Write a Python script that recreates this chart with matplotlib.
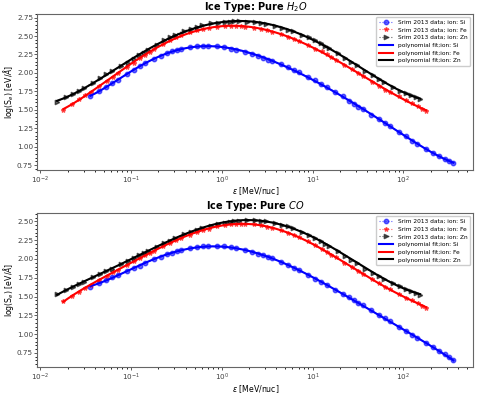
import matplotlib
matplotlib.use('Agg')
import matplotlib.pyplot as plt
from matplotlib.ticker import MultipleLocator, AutoMinorLocator, FormatStrFormatter
import numpy as np

# SRIM energy grid (total ion energy, MeV) and ion masses
energy_mev = [1, 1.25, 1.5, 1.75, 2, 2.5, 3, 3.5, 4, 5, 6, 7, 8, 9,
              10, 12.5, 15, 17.5, 20, 25, 30, 35, 40, 50, 60, 70, 80, 90,
              100, 125, 150, 175, 200, 250, 300, 350, 400, 500, 600, 700, 800, 900,
              1000, 1250, 1500, 1750, 2000, 2500, 3000, 3500, 4000, 5000, 6000, 7000, 8000, 9000,
              10000]
ions = ['Si', 'Fe', 'Zn']
ion_mass = [28.09, 55.85, 65.38]

# log10 electronic stopping [eV/A]
h2o_si = [1.69, 1.755, 1.81, 1.857, 1.90, 1.98, 2.04, 2.09, 2.13, 2.19, 2.23, 2.27, 2.29, 2.31,
          2.32, 2.35, 2.36, 2.37, 2.37, 2.36, 2.35, 2.33, 2.31, 2.28, 2.25, 2.23, 2.20, 2.18,
          2.16, 2.115, 2.08, 2.04, 2.01, 1.95, 1.90, 1.85, 1.81, 1.74, 1.68, 1.62, 1.58, 1.54,
          1.505, 1.43, 1.37, 1.32, 1.28, 1.20, 1.14, 1.08, 1.04, 0.97, 0.915, 0.87, 0.835, 0.80,
          0.775]
h2o_fe = [1.50, 1.58, 1.64, 1.70, 1.74, 1.82, 1.89, 1.95, 2.00, 2.08, 2.14, 2.20, 2.245, 2.285,
          2.32, 2.39, 2.445, 2.48, 2.51, 2.55, 2.575, 2.60, 2.61, 2.625, 2.63, 2.635, 2.635, 2.635,
          2.625, 2.61, 2.595, 2.58, 2.56, 2.53, 2.49, 2.46, 2.43, 2.375, 2.33, 2.29, 2.25, 2.215,
          2.18, 2.11, 2.05, 2.00, 1.955, 1.88, 1.82, 1.77, 1.74, 1.68, 1.63, 1.59, 1.55, 1.515,
          1.48]
h2o_zn = [1.61, 1.67, 1.717, 1.76, 1.80, 1.868, 1.925, 1.98, 2.02, 2.09, 2.14, 2.19, 2.24, 2.27,
          2.31, 2.38, 2.44, 2.485, 2.52, 2.57, 2.60, 2.625, 2.645, 2.67, 2.683, 2.692, 2.695, 2.698,
          2.70, 2.692, 2.684, 2.673, 2.66, 2.635, 2.61, 2.585, 2.565, 2.52, 2.48, 2.44, 2.40, 2.37,
          2.34, 2.265, 2.20, 2.15, 2.10, 2.025, 1.965, 1.915, 1.87, 1.81, 1.76, 1.725, 1.695, 1.67,
          1.645]
co_si = [1.63, 1.68, 1.72, 1.76, 1.79, 1.835, 1.875, 1.91, 1.945, 1.995, 2.03, 2.06, 2.08, 2.10,
         2.115, 2.14, 2.155, 2.17, 2.17, 2.175, 2.17, 2.155, 2.145, 2.12, 2.09, 2.07, 2.05, 2.03,
         2.01, 1.96, 1.92, 1.88, 1.85, 1.79, 1.74, 1.695, 1.655, 1.59, 1.535, 1.49, 1.45, 1.415,
         1.385, 1.315, 1.26, 1.21, 1.17, 1.095, 1.04, 0.99, 0.95, 0.88, 0.825, 0.775, 0.73, 0.69,
         0.65]
co_fe = [1.44, 1.51, 1.56, 1.615, 1.655, 1.725, 1.78, 1.83, 1.86, 1.92, 1.97, 2.01, 2.05, 2.085,
         2.11, 2.17, 2.21, 2.25, 2.275, 2.32, 2.36, 2.39, 2.405, 2.435, 2.453, 2.46, 2.465, 2.47,
         2.466, 2.46, 2.447, 2.43, 2.413, 2.38, 2.35, 2.32, 2.29, 2.237, 2.19, 2.137, 2.094, 2.055,
         2.02, 1.95, 1.89, 1.84, 1.795, 1.73, 1.68, 1.63, 1.595, 1.53, 1.485, 1.45, 1.415, 1.38,
         1.35]
co_zn = [1.53, 1.585, 1.628, 1.667, 1.70, 1.76, 1.805, 1.84, 1.873, 1.93, 1.978, 2.018, 2.053, 2.083,
         2.11, 2.165, 2.21, 2.245, 2.277, 2.33, 2.365, 2.39, 2.415, 2.445, 2.47, 2.485, 2.495, 2.504,
         2.512, 2.515, 2.515, 2.51, 2.50, 2.483, 2.458, 2.435, 2.415, 2.364, 2.32, 2.28, 2.24, 2.203,
         2.17, 2.10, 2.04, 1.99, 1.945, 1.873, 1.82, 1.776, 1.74, 1.684, 1.64, 1.604, 1.572, 1.545,
         1.52]

ices = [('H_2O', [h2o_si, h2o_fe, h2o_zn]), ('CO', [co_si, co_fe, co_zn])]
colors = ['blue', 'red', 'black']
markers = ['o', '*', '>']

fig = plt.figure(figsize=(4.78, 3.96), dpi=100)
boxes = [[0.078, 0.57, 0.912, 0.395], [0.078, 0.072, 0.912, 0.39]]

E = np.array(energy_mev)
for box, (ice, series) in zip(boxes, ices):
    ax = fig.add_axes(box)
    for k in range(3):
        x = E / ion_mass[k]
        ax.plot(x, series[k], ls=':', marker=markers[k], color=colors[k], ms=3.2,
                mec=colors[k], alpha=0.6, lw=0.8,
                label='Srim 2013 data; ion: ' + ions[k])
    for k in range(3):
        x = E / ion_mass[k]
        lx = np.log10(x)
        coef = np.polyfit(lx, series[k], 6)
        xf = np.linspace(lx.min(), lx.max(), 300)
        ax.plot(10 ** xf, np.polyval(coef, xf), color=colors[k], lw=1.5,
                label='polynomial fit;ion: ' + ions[k])
    ax.set_xscale('log')
    ax.yaxis.set_major_locator(MultipleLocator(0.25))
    ax.yaxis.set_major_formatter(FormatStrFormatter('%.2f'))
    ax.yaxis.set_minor_locator(AutoMinorLocator(5))
    ax.set_title('Ice Type: Pure $%s$' % ice, fontsize=7, fontweight='bold', pad=2.5)
    ax.set_xlabel(r'$\varepsilon$ [MeV/nuc]', fontsize=5.6, labelpad=0)
    ax.set_ylabel(r'log(S$_e$) [eV/$\AA$]', fontsize=5.6, labelpad=1)
    ax.tick_params(labelsize=5.2, pad=1, colors='0.25')
    ax.tick_params(which='both', width=0.6)
    ax.tick_params(which='major', length=2)
    ax.tick_params(which='minor', length=1.1)
    for s in ax.spines.values():
        s.set_color('0.4')
        s.set_linewidth(0.8)
    ax.legend(loc='upper right', fontsize=4.2, handlelength=2.5, borderpad=0.5,
              labelspacing=0.45, framealpha=1)

fig.savefig('out.png', dpi=100)
